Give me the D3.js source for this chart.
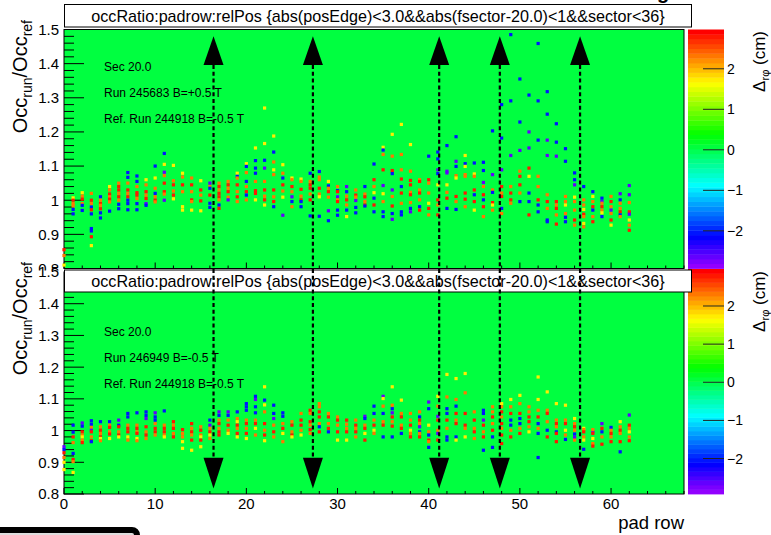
<!DOCTYPE html>
<html>
<head>
<meta charset="utf-8">
<script src="https://cdn.jsdelivr.net/npm/d3@7"></script>
<style>
html, body { margin: 0; padding: 0; background: #fff; }
svg { display: block; font-family: "Liberation Sans", Arial, Helvetica, sans-serif; }
</style>
</head>
<body>
<svg id="canvas" width="771" height="535"></svg>
<script>
// Δrφ levels (cm) of the marker classes seen along the sector edges
const R = 2.85, O = 2.35, Y = 1.75, B = -2.0, V = -2.6;

const padRowDomain = [0, 68];
const ratioDomain = [0.8, 1.5];
const deltaDomain = [-2.93, 2.97];

const padRowTicks = [0, 10, 20, 30, 40, 50, 60];
const padRowTickLabels = ["0", "10", "20", "30", "40", "50", "60"];
const ratioTicks = [0.8, 0.9, 1.0, 1.1, 1.2, 1.3, 1.4, 1.5];
const ratioTickLabels = ["0.8", "0.9", "1", "1.1", "1.2", "1.3", "1.4", "1.5"];
const deltaTicks = [-2, -1, 0, 1, 2];
const deltaTickLabels = ["\u22122", "\u22121", "0", "1", "2"];

const titleText = "occRatio:padrow:relPos {abs(posEdge)<3.0&&abs(fsector-20.0)<1&&sector<36}";
const notesTop = ["Sec 20.0", "Run 245683 B=+0.5 T", "Ref. Run 244918 B=-0.5 T"];
const notesBottom = ["Sec 20.0", "Run 246949 B=-0.5 T", "Ref. Run 244918 B=-0.5 T"];

// chamber boundaries marked with arrows (pad row)
const arrowRows = [16.4, 27.3, 41.15, 47.8, 56.6];

// occupancy ratio per pad row: [ratio, Δrφ]
const occTop = [
  [[0.855,R],[0.838,O],[0.81,Y]],
  [[1.007,Y],[1.0,R],[0.99,O],[0.983,O],[0.973,B],[0.96,B]],
  [[1.022,Y],[1.012,O],[1.003,R],[0.99,O],[0.985,B],[0.97,B]],
  [[1.02,O],[1.0,R],[0.99,O],[0.98,B],[0.972,R],[0.96,B],[0.917,B],[0.91,B],[0.893,R],[0.867,Y]],
  [[1.01,B],[1.0,O],[0.99,R],[0.985,O],[0.975,R],[0.963,B],[0.948,B]],
  [[1.04,Y],[1.03,O],[1.018,R],[1.01,O],[1.003,R],[0.995,O],[0.968,B]],
  [[1.05,O],[1.04,R],[1.03,R],[1.02,O],[1.01,R],[1.0,O],[0.988,B],[0.975,B]],
  [[1.081,B],[1.067,B],[1.05,O],[1.03,R],[1.02,O],[1.01,R],[1.0,B],[0.99,B],[0.972,B]],
  [[1.071,B],[1.055,B],[1.04,O],[1.022,R],[1.015,R],[1.005,O],[0.99,B],[0.972,B]],
  [[1.06,Y],[1.045,O],[1.025,R],[1.015,O],[1.005,R],[0.99,V],[0.985,B]],
  [[1.1,B],[1.065,Y],[1.035,O],[1.02,B],[1.01,O],[1.0,R],[0.995,O]],
  [[1.137,B],[1.105,Y],[1.082,V],[1.072,O],[1.05,R],[1.025,R],[1.018,O],[1.0,V]],
  [[1.102,Y],[1.057,O],[1.045,R],[1.027,O],[1.015,R],[1.004,Y]],
  [[1.079,Y],[1.068,O],[1.045,R],[1.025,O],[0.981,Y],[0.971,Y]],
  [[1.065,O],[1.045,R],[1.025,O],[1.001,R],[0.996,O],[0.971,Y]],
  [[1.057,Y],[1.03,R],[1.015,O],[0.998,R],[0.969,Y]],
  [[1.05,V],[1.04,O],[1.035,B],[1.015,R],[0.991,B],[0.979,B]],
  [[1.05,O],[1.04,R],[1.03,O],[1.02,R],[1.01,R],[1.001,O],[0.986,B],[0.976,R]],
  [[1.055,O],[1.045,R],[1.035,O],[1.025,R],[1.009,O],[1.001,V]],
  [[1.079,Y],[1.07,B],[1.065,O],[1.045,R],[1.025,O],[1.01,R],[0.996,O]],
  [[1.107,Y],[1.099,B],[1.081,O],[1.055,B],[1.04,O],[1.025,R],[1.015,B],[1.001,O]],
  [[1.153,Y],[1.116,B],[1.094,B],[1.079,B],[1.055,O],[1.028,R],[1.02,R],[1.001,Y]],
  [[1.27,Y],[1.166,Y],[1.117,B],[1.094,V],[1.055,O],[1.03,R],[1.012,O],[1.001,R],[0.986,Y]],
  [[1.188,Y],[1.141,B],[1.112,O],[1.089,Y],[1.075,O],[1.03,R],[1.01,O],[0.996,R],[0.981,B]],
  [[1.104,Y],[1.079,O],[1.065,B],[1.045,R],[1.027,O],[1.009,Y],[0.956,V]],
  [[1.065,Y],[1.06,O],[1.04,R],[1.025,O],[1.01,V],[0.996,B],[0.981,O]],
  [[1.062,Y],[1.055,O],[1.032,R],[1.012,O],[1.001,R],[0.996,B],[0.981,B]],
  [[1.079,B],[1.055,O],[1.045,R],[1.035,R],[1.018,O],[1.001,R],[0.954,B]],
  [[1.084,B],[1.068,O],[1.06,O],[1.035,R],[1.018,O],[1.01,Y],[0.953,B]],
  [[1.055,Y],[1.042,B],[1.035,O],[1.025,R],[1.009,O],[0.969,V],[0.94,B]],
  [[1.04,O],[1.028,B],[1.025,R],[1.01,V],[1.001,O],[0.996,R],[0.971,B],[0.956,B]],
  [[1.04,V],[1.025,B],[1.012,O],[1.001,R],[0.986,O],[0.971,B],[0.952,Y]],
  [[1.03,O],[1.015,R],[1.009,O],[0.999,V],[0.979,B],[0.963,B]],
  [[1.04,B],[1.018,O],[1.01,R],[0.996,O],[0.986,R],[0.983,B]],
  [[1.106,B],[1.06,R],[1.04,O],[1.022,Y],[1.006,B],[0.986,R],[0.966,B]],
  [[1.155,Y],[1.147,B],[1.134,O],[1.089,R],[1.043,V],[1.019,Y],[0.996,O],[0.966,B],[0.952,B]],
  [[1.193,Y],[1.129,O],[1.087,R],[1.078,B],[1.03,V],[1.011,O],[0.983,R],[0.961,B],[0.944,V]],
  [[1.222,Y],[1.134,O],[1.089,O],[1.062,R],[1.04,B],[1.021,R],[0.991,O],[0.966,B],[0.957,B]],
  [[1.163,Y],[1.085,O],[1.058,R],[1.045,R],[1.023,O],[1.016,R],[0.993,O],[0.976,B],[0.966,V]],
  [[1.06,O],[1.055,R],[1.03,O],[1.021,R],[1.001,O],[0.981,B],[0.971,R]],
  [[1.129,B],[1.06,R],[1.05,O],[1.021,O],[0.991,Y],[0.976,R],[0.957,O]],
  [[1.141,B],[1.121,B],[1.089,V],[1.078,B],[1.045,Y],[1.001,R],[0.986,O],[0.957,R]],
  [[1.16,B],[1.085,V],[1.08,V],[1.045,Y],[1.023,O],[1.006,R],[0.976,B]],
  [[1.186,B],[1.114,V],[1.099,B],[1.072,O],[1.065,Y],[1.011,R],[0.996,O],[0.973,B]],
  [[1.131,Y],[1.107,B],[1.099,Y],[1.075,O],[1.07,O],[1.021,R],[1.003,R],[0.981,O]],
  [[1.109,B],[1.077,Y],[1.07,O],[1.03,R],[1.016,B],[0.996,R],[0.971,Y]],
  [[1.111,B],[1.087,B],[1.052,V],[1.04,O],[1.016,R],[1.001,B],[0.981,R],[0.952,O]],
  [[1.203,B],[1.075,V],[1.03,O],[1.023,B],[0.993,R],[0.986,Y],[0.971,O]],
  [[1.28,B],[1.182,B],[1.089,V],[1.04,R],[1.021,O],[1.011,R],[0.976,B],[0.961,O]],
  [[1.485,B],[1.291,B],[1.131,V],[1.04,O],[1.021,R],[1.001,R],[0.991,O]],
  [[1.355,B],[1.229,B],[1.146,V],[1.085,O],[1.07,R],[1.045,R],[1.021,O],[0.996,B]],
  [[1.308,B],[1.2,V],[1.153,V],[1.094,R],[1.07,Y],[1.021,B],[0.996,B],[0.957,R]],
  [[1.459,B],[1.291,B],[1.176,B],[1.07,O],[1.04,O],[1.001,R],[0.986,B],[0.966,B]],
  [[1.318,B],[1.252,B],[1.176,V],[1.131,V],[1.016,O],[0.996,R],[0.976,O],[0.942,B],[0.937,B]],
  [[1.224,B],[1.17,B],[1.129,V],[0.996,R],[0.986,O],[0.976,R],[0.957,O],[0.93,R]],
  [[1.151,B],[1.114,B],[1.011,O],[0.996,O],[0.986,Y],[0.961,O],[0.95,B],[0.937,B]],
  [[1.08,B],[1.06,B],[1.045,V],[1.009,Y],[0.996,O],[0.971,O],[0.942,R],[0.927,O]],
  [[1.04,B],[1.001,O],[0.986,O],[0.973,Y],[0.959,R],[0.952,O],[0.932,Y],[0.922,O]],
  [[1.025,B],[1.011,Y],[0.996,O],[0.981,R],[0.971,B],[0.952,O],[0.937,R]],
  [[1.006,B],[0.996,V],[0.991,O],[0.981,R],[0.971,O],[0.963,Y],[0.952,B]],
  [[1.011,O],[0.996,R],[0.981,O],[0.971,V],[0.961,O],[0.942,R],[0.927,Y]],
  [[1.019,V],[1.001,B],[0.991,O],[0.976,O],[0.966,R],[0.957,B],[0.952,O]],
  [[1.043,V],[1.016,V],[0.993,O],[0.966,R],[0.959,V],[0.942,Y],[0.927,O],[0.912,R]]
];

const occBottom = [
  [[0.949,V],[0.94,B],[0.93,R],[0.915,O],[0.9,Y],[0.877,Y]],
  [[1.017,B],[0.995,B],[0.98,R],[0.962,O],[0.928,B],[0.909,R],[0.902,O],[0.868,Y]],
  [[1.024,V],[1.014,B],[0.996,R],[0.986,O],[0.98,Y],[0.97,O],[0.962,R]],
  [[1.031,B],[1.02,B],[1.01,O],[1.001,V],[0.996,R],[0.98,O],[0.968,R],[0.965,B]],
  [[1.028,B],[1.012,O],[1.001,R],[0.991,O],[0.98,R],[0.975,Y],[0.968,O]],
  [[1.028,B],[1.017,O],[1.01,R],[0.996,O],[0.989,R],[0.975,Y]],
  [[1.033,V],[1.017,B],[1.012,R],[0.996,O],[0.986,R],[0.98,Y]],
  [[1.054,B],[1.043,B],[1.017,O],[1.007,R],[0.996,R],[0.98,Y],[0.97,O]],
  [[1.056,B],[1.017,O],[1.007,R],[0.996,O],[0.991,R],[0.975,Y],[0.968,O]],
  [[1.059,B],[1.048,B],[1.038,V],[1.012,R],[0.996,O],[0.986,R],[0.975,O]],
  [[1.056,V],[1.043,B],[1.033,B],[1.022,O],[1.007,R],[0.996,R],[0.986,O]],
  [[1.062,B],[1.017,O],[1.007,R],[0.996,R],[0.986,O],[0.98,Y]],
  [[1.028,R],[1.017,O],[1.007,R],[0.991,O],[0.98,R]],
  [[1.003,R],[0.991,O],[0.98,O],[0.965,Y],[0.944,Y]],
  [[1.022,R],[1.007,O],[0.996,R],[0.986,O],[0.97,R],[0.938,Y]],
  [[1.012,O],[1.001,R],[0.986,O],[0.98,Y],[0.97,R],[0.949,Y]],
  [[1.033,B],[1.017,V],[1.007,O],[0.996,R],[0.986,Y],[0.975,O]],
  [[1.059,V],[1.048,B],[1.033,O],[1.022,R],[1.007,O],[0.996,R],[0.986,R]],
  [[1.059,V],[1.048,B],[1.033,O],[1.017,R],[1.001,O],[0.991,Y]],
  [[1.059,B],[1.038,O],[1.028,Y],[1.017,R],[1.007,O],[0.991,R],[0.98,Y]],
  [[1.085,B],[1.075,B],[1.064,B],[1.033,O],[1.022,R],[1.007,O],[0.991,R],[0.975,Y]],
  [[1.108,B],[1.098,V],[1.075,B],[1.056,B],[1.033,O],[1.022,R],[1.007,Y],[0.986,O]],
  [[1.138,Y],[1.096,B],[1.081,Y],[1.059,O],[1.022,R],[1.001,O],[0.986,R],[0.968,Y]],
  [[1.08,B],[1.054,B],[1.038,V],[1.017,O],[0.996,R],[0.98,O]],
  [[1.056,B],[1.045,B],[1.022,O],[1.007,R],[0.991,Y],[0.965,O]],
  [[1.028,O],[1.017,R],[0.996,O],[0.986,R],[0.98,Y]],
  [[1.054,O],[1.033,R],[1.017,R],[1.001,O],[0.986,Y]],
  [[1.064,R],[1.054,O],[1.028,R],[1.017,O],[1.003,R],[0.991,O]],
  [[1.085,O],[1.075,O],[1.059,R],[1.043,R],[1.022,O],[1.012,B],[0.996,R]],
  [[1.054,O],[1.043,R],[1.022,O],[1.007,R],[0.996,B]],
  [[1.043,O],[1.033,R],[1.017,O],[0.996,R],[0.97,Y]],
  [[1.033,R],[1.02,O],[1.007,O],[0.996,R],[0.97,Y]],
  [[1.033,O],[1.017,R],[1.007,O],[0.996,R],[0.98,O]],
  [[1.045,V],[1.038,B],[1.017,O],[1.007,R],[0.991,Y],[0.97,R]],
  [[1.077,B],[1.054,B],[1.033,O],[1.017,R],[1.001,Y],[0.991,O]],
  [[1.108,V],[1.101,Y],[1.077,O],[1.054,B],[1.028,O],[1.017,R],[0.98,B]],
  [[1.138,Y],[1.08,O],[1.069,B],[1.056,V],[1.043,R],[1.028,O],[1.014,R],[0.98,B]],
  [[1.096,Y],[1.054,O],[1.043,R],[1.017,O],[1.007,R],[0.991,B]],
  [[1.054,O],[1.033,O],[1.017,R],[1.001,Y],[0.991,O],[0.98,R]],
  [[1.059,O],[1.043,B],[1.033,R],[1.022,O],[1.012,V],[0.996,B],[0.991,O],[0.98,R]],
  [[1.09,V],[1.069,B],[1.017,Y],[0.996,O],[0.986,B],[0.97,R],[0.965,O],[0.947,B]],
  [[1.108,Y],[1.077,O],[1.045,V],[1.033,R],[1.001,O],[0.991,V],[0.97,R]],
  [[1.177,Y],[1.106,O],[1.069,B],[1.054,B],[1.033,R],[1.007,O],[0.98,B],[0.97,B]],
  [[1.164,Y],[1.098,O],[1.077,B],[1.054,R],[1.033,O],[1.022,R],[0.98,B],[0.97,Y]],
  [[1.18,Y],[1.119,O],[1.054,R],[1.017,R],[1.007,O],[0.98,Y]],
  [[1.059,O],[1.033,R],[1.007,O],[0.996,R],[0.975,O]],
  [[1.064,B],[1.054,B],[1.033,V],[1.017,R],[0.996,O],[0.98,R],[0.938,B]],
  [[1.075,O],[1.059,O],[1.043,R],[1.022,O],[1.001,R],[0.98,B],[0.947,B]],
  [[1.085,Y],[1.075,O],[1.059,R],[1.043,O],[1.022,R],[1.007,O],[0.986,R],[0.959,R]],
  [[1.098,Y],[1.075,O],[1.054,R],[1.033,B],[1.017,B],[1.001,O],[0.98,R]],
  [[1.111,Y],[1.085,O],[1.054,R],[1.038,B],[1.022,B],[1.007,O],[0.991,R]],
  [[1.075,O],[1.059,O],[1.043,R],[1.028,R],[1.012,O],[0.996,Y]],
  [[1.169,Y],[1.098,Y],[1.064,O],[1.043,R],[1.022,B],[1.007,O],[0.991,B],[0.915,B]],
  [[1.122,Y],[1.064,O],[1.054,R],[1.028,O],[1.001,B],[0.98,R]],
  [[1.085,Y],[1.033,O],[1.022,R],[1.012,O],[0.996,B],[0.991,R],[0.965,R]],
  [[1.08,Y],[1.033,O],[1.022,R],[1.001,Y],[0.986,O],[0.972,B]],
  [[1.038,Y],[1.022,O],[1.012,R],[1.001,O],[0.989,B],[0.978,V],[0.97,O]],
  [[1.007,Y],[1.003,O],[0.996,R],[0.98,O],[0.97,Y],[0.941,B]],
  [[0.996,V],[1.003,O],[0.991,R],[0.975,Y],[0.959,O],[0.951,R]],
  [[1.022,V],[1.007,R],[0.996,B],[0.98,O],[0.957,R]],
  [[1.01,B],[1.001,O],[0.991,R],[0.98,O],[0.965,R]],
  [[1.028,Y],[1.012,O],[1.001,R],[0.991,O],[0.965,R],[0.933,B]],
  [[1.049,V],[1.017,R],[1.007,O],[0.996,Y],[0.98,O],[0.968,R]]
];

// ---------------------------------------------------------------------------
const svg = d3.select("#canvas");
const frameLeft = 64, frameRight = 684;
const frameGreen = "#00ff40";
const nColors = 50;

// ROOT "pretty" palette: 50 HLS hues running violet -> red
function paletteColor(z) {
  let i = Math.floor((z - deltaDomain[0]) / (deltaDomain[1] - deltaDomain[0]) * nColors);
  i = Math.max(0, Math.min(nColors - 1, i));
  return d3.hsl(280 - (i + 1) * 280 / nColors, 1, 0.5).formatHex();
}

const x = d3.scaleLinear().domain(padRowDomain).range([frameLeft, frameRight]);

const panels = [
  { data: occTop, notes: notesTop, top: 29.5, bottom: 268.5, barTop: 29.5, barBottom: 268.5,
    boxTop: 4.5, boxH: 22.5, notesBase: 70.5, yTitleEnd: 20, zTitleEnd: 31 },
  { data: occBottom, notes: notesBottom, top: 272, bottom: 494, barTop: 269, barBottom: 494,
    boxTop: 270, boxH: 22, notesBase: 336, yTitleEnd: 262, zTitleEnd: 271, xLabels: true }
];

function drawPanel(p) {
  const g = svg.append("g");
  const y = d3.scaleLinear().domain(ratioDomain).range([p.bottom, p.top]);

  g.append("rect")
    .attr("x", frameLeft).attr("y", p.top)
    .attr("width", frameRight - frameLeft).attr("height", p.bottom - p.top)
    .attr("fill", frameGreen);

  // y axis ticks (inward), minor every 0.02
  const minor = d3.range(0, 36).map(i => +(ratioDomain[0] + i * 0.02).toFixed(2));
  g.append("g").selectAll("line").data(minor).join("line")
    .attr("x1", frameLeft).attr("x2", d => frameLeft + (ratioTicks.some(t => Math.abs(t - d) < 1e-6) ? 20 : 10))
    .attr("y1", d => y(d)).attr("y2", d => y(d))
    .attr("stroke", "#000").attr("stroke-width", 1);

  // x axis ticks (upward), minor every 2 rows
  const xMinor = d3.range(0, 69, 2);
  g.append("g").selectAll("line").data(xMinor).join("line")
    .attr("x1", d => x(d)).attr("x2", d => x(d))
    .attr("y1", p.bottom).attr("y2", d => p.bottom - (d % 10 === 0 ? 6 : 3))
    .attr("stroke", "#000").attr("stroke-width", 1);

  // frame
  g.append("rect")
    .attr("x", frameLeft).attr("y", p.top)
    .attr("width", frameRight - frameLeft).attr("height", p.bottom - p.top)
    .attr("fill", "none").attr("stroke", "#000").attr("stroke-width", 1);

  // markers
  const pts = [];
  p.data.forEach((row, r) => row.forEach(([v, z]) => pts.push({ r, v, z })));
  g.append("g").selectAll("rect").data(pts).join("rect")
    .attr("x", d => x(d.r) - 1.6).attr("y", d => y(d.v) - 1.6)
    .attr("width", 3.2).attr("height", 3.2)
    .attr("fill", d => paletteColor(d.z));

  // y tick labels
  g.append("g").selectAll("text").data(ratioTicks).join("text")
    .attr("x", 59).attr("y", d => y(d)).attr("dy", "0.36em")
    .attr("text-anchor", "end").attr("font-size", 15)
    .text((d, i) => ratioTickLabels[i]);

  // y title
  const yt = g.append("text")
    .attr("transform", `translate(26.5,${p.yTitleEnd}) rotate(-90)`)
    .attr("text-anchor", "end").attr("font-size", 20);
  yt.append("tspan").text("Occ");
  yt.append("tspan").attr("font-size", 14).attr("dy", 5).text("run");
  yt.append("tspan").attr("dy", -5).text("/Occ");
  yt.append("tspan").attr("font-size", 14).attr("dy", 5).text("ref");

  // colour bar
  const z = d3.scaleLinear().domain(deltaDomain).range([p.barBottom, p.barTop]);
  const step = (deltaDomain[1] - deltaDomain[0]) / nColors;
  const bands = d3.range(nColors).map(i => deltaDomain[0] + i * step);
  g.append("g").selectAll("rect").data(bands).join("rect")
    .attr("x", 688).attr("width", 36)
    .attr("y", d => z(d + step)).attr("height", d => z(d) - z(d + step) + 0.4)
    .attr("fill", d => paletteColor(d + step / 2));
  g.append("g").selectAll("line").data(deltaTicks).join("line")
    .attr("x1", 703).attr("x2", 724)
    .attr("y1", d => z(d)).attr("y2", d => z(d))
    .attr("stroke", "#222").attr("stroke-width", 1);
  g.append("g").selectAll("text").data(deltaTicks).join("text")
    .attr("x", 727).attr("y", d => z(d)).attr("dy", "0.36em")
    .attr("font-size", 14)
    .text((d, i) => deltaTickLabels[i]);
  const zt = g.append("text")
    .attr("transform", `translate(765,${p.zTitleEnd}) rotate(-90)`)
    .attr("text-anchor", "end").attr("font-size", 17);
  zt.append("tspan").text("\u0394");
  zt.append("tspan").attr("font-size", 11).attr("dy", 4).text("r\u03c6");
  zt.append("tspan").attr("dy", -4).text(" (cm)");

  // run notes
  g.append("g").selectAll("text").data(p.notes).join("text")
    .attr("x", 104).attr("y", (d, i) => p.notesBase + i * 26)
    .attr("font-size", 12).text(d => d);

  // title box
  g.append("rect")
    .attr("x", 64.5).attr("y", p.boxTop).attr("width", 627).attr("height", p.boxH)
    .attr("fill", "#fff").attr("stroke", "#000").attr("stroke-width", 1);
  const tt = g.append("text")
    .attr("x", 378).attr("y", p.boxTop + p.boxH / 2).attr("dy", "0.36em")
    .attr("text-anchor", "middle").attr("font-size", 15).text(titleText);
  const w = tt.node().getComputedTextLength();
  tt.attr("font-size", 15 * 574 / w);

  if (p.xLabels) {
    g.append("g").selectAll("text").data(padRowTicks).join("text")
      .attr("x", d => x(d)).attr("y", 508.5)
      .attr("text-anchor", "middle").attr("font-size", 15)
      .text((d, i) => padRowTickLabels[i]);
    g.append("text").attr("x", 684).attr("y", 529)
      .attr("text-anchor", "end").attr("font-size", 18.5).text("pad row");
  }
  return y;
}

const yTop = drawPanel(panels[0]);
// lower pad covers the bottom edge of the upper one
svg.append("rect").attr("x", 0).attr("y", 270.5).attr("width", 771).attr("height", 265).attr("fill", "#fff");
const yBottom = drawPanel(panels[1]);

// boundary arrows spanning both pads
const arrows = svg.append("g");
const upTip = yTop(1.48), upBase = yTop(1.396);
const downBase = yBottom(0.914), downTip = yBottom(0.817);
arrowRows.forEach(r => {
  const cx = x(r);
  arrows.append("line")
    .attr("x1", cx).attr("x2", cx).attr("y1", upBase).attr("y2", downBase)
    .attr("stroke", "#000").attr("stroke-width", 2.2).attr("stroke-dasharray", "4,2.8");
  arrows.append("path")
    .attr("d", `M${cx},${upTip}L${cx - 10},${upBase}L${cx + 10},${upBase}Z`).attr("fill", "#000");
  arrows.append("path")
    .attr("d", `M${cx},${downTip}L${cx - 10},${downBase}L${cx + 10},${downBase}Z`).attr("fill", "#000");
});

// leftover canvas decorations
svg.append("rect").attr("x", -10).attr("y", 530).attr("width", 147).attr("height", 30)
  .attr("rx", 5).attr("fill", "#ddd").attr("stroke", "#000").attr("stroke-width", 6);
svg.append("text").attr("x", 657).attr("y", -1).attr("font-size", 20).attr("font-weight", "bold").text("g");
</script>
</body>
</html>
